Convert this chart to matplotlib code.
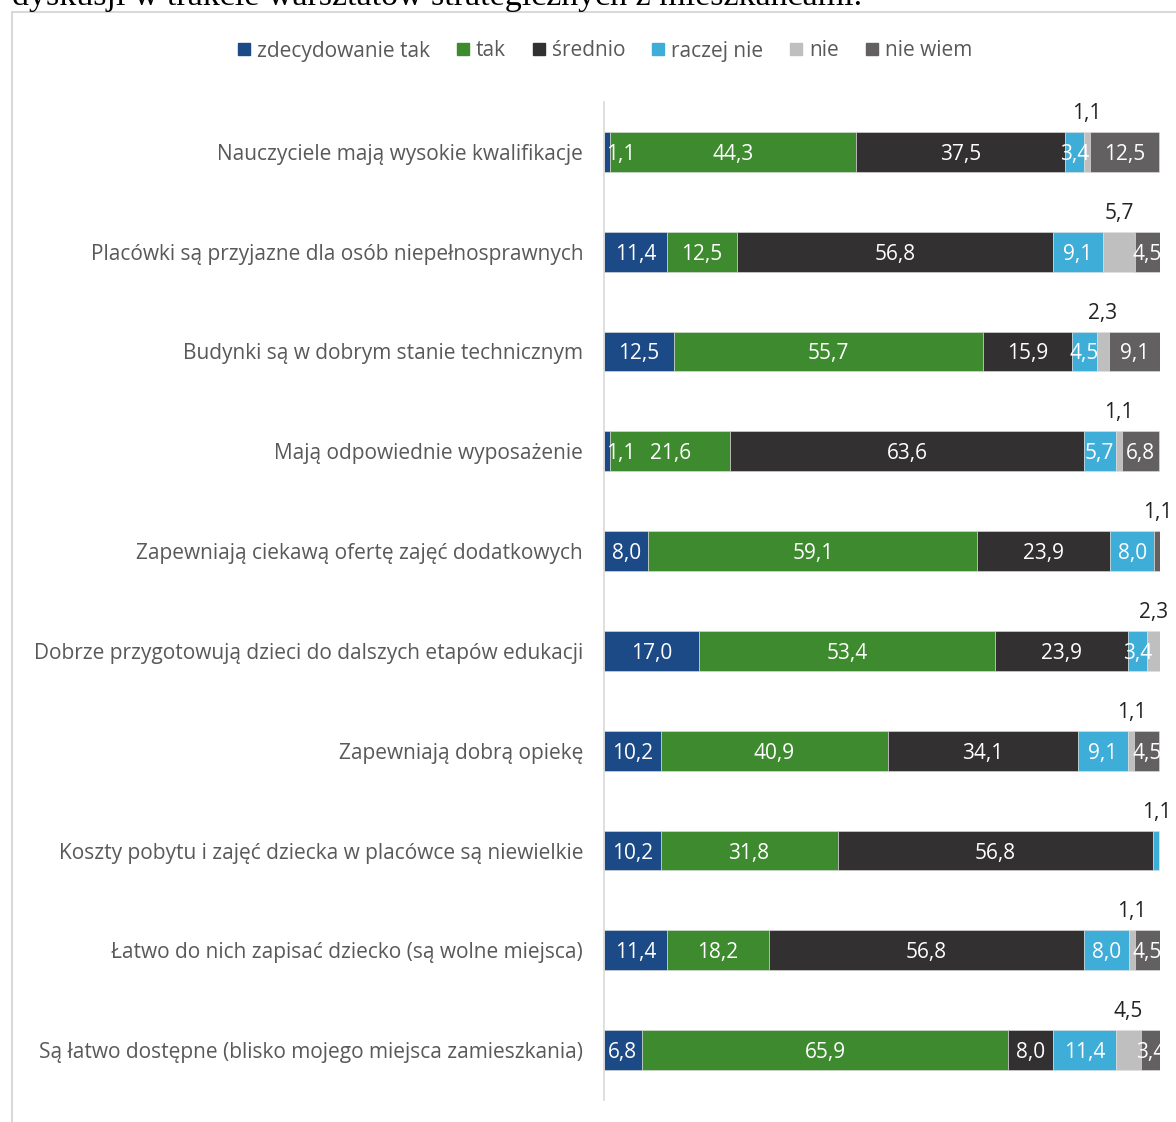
import matplotlib.pyplot as plt
import numpy as np
from matplotlib.lines import Line2D
from matplotlib.patches import Rectangle

plt.rcParams["font.family"] = ["Open Sans", "DejaVu Sans"]

categories = [
    "Nauczyciele mają wysokie kwalifikacje",
    "Placówki są przyjazne dla osób niepełnosprawnych",
    "Budynki są w dobrym stanie technicznym",
    "Mają odpowiednie wyposażenie",
    "Zapewniają ciekawą ofertę zajęć dodatkowych",
    "Dobrze przygotowują dzieci do dalszych etapów edukacji",
    "Zapewniają dobrą opiekę",
    "Koszty pobytu i zajęć dziecka w placówce są niewielkie",
    "Łatwo do nich zapisać dziecko (są wolne miejsca)",
    "Są łatwo dostępne (blisko mojego miejsca zamieszkania)",
]
series_names = ["zdecydowanie tak", "tak", "średnio", "raczej nie", "nie", "nie wiem"]
zdecydowanie_tak = [1.1, 11.4, 12.5, 1.1, 8.0, 17.0, 10.2, 10.2, 11.4, 6.8]
tak = [44.3, 12.5, 55.7, 21.6, 59.1, 53.4, 40.9, 31.8, 18.2, 65.9]
srednio = [37.5, 56.8, 15.9, 63.6, 23.9, 23.9, 34.1, 56.8, 56.8, 8.0]
raczej_nie = [3.4, 9.1, 4.5, 5.7, 8.0, 3.4, 9.1, 1.1, 8.0, 11.4]
nie = [1.1, 5.7, 2.3, 1.1, 0.0, 2.3, 1.1, 0.0, 1.1, 4.5]
nie_wiem = [12.5, 4.5, 9.1, 6.8, 1.1, 0.0, 4.5, 0.0, 4.5, 3.4]

colors = ["#1b4a86", "#3e8a2f", "#323031", "#3eadd8", "#bfbfbf", "#636061"]
data = np.array([zdecydowanie_tak, tak, srednio, raczej_nie, nie, nie_wiem])


def fmt(v):
    return f"{v:.1f}".replace(".", ",")


W, H = 1176, 1122
FS = 15
fig = plt.figure(figsize=(W / 100, H / 100), dpi=100)

# chart frame + cut-off line of text above it
fig.patches.append(Rectangle((11.5 / W, -0.05), 1.2, 1 - 12 / H + 0.05,
                             transform=fig.transFigure, fill=False,
                             edgecolor="#d9d9d9", linewidth=1.5))
fig.text(12 / W, 1 - 5 / H, "dyskusji w trakcie warsztatów strategicznych z mieszkańcami.",
         family=["Liberation Serif", "DejaVu Serif"], fontsize=24.5, va="baseline",
         ha="left", color="black")

ax = fig.add_axes([604 / W, 1 - 1100 / H, 556 / W, 998 / H])
y = np.arange(len(categories))
left = np.zeros(len(categories))
for k, name in enumerate(series_names):
    vals = data[k]
    ax.barh(y, vals, left=left, height=0.4, color=colors[k], label=name,
            edgecolor="#e0e0e0", linewidth=0.4)
    for i, v in enumerate(vals):
        if v <= 0:
            continue
        last = not np.any(data[k + 1:, i] > 0)
        cx = left[i] + v / 2
        if name == "nie" or (last and v < 2):
            ax.text(cx, i - 0.41, fmt(v), ha="center", va="center_baseline",
                    fontsize=FS, color="#222222", clip_on=False)
        elif k == 0 and v < 3:
            ax.text(left[i] + 0.4, i, fmt(v), ha="left", va="center_baseline",
                    fontsize=FS, color="white")
        else:
            ax.text(cx, i, fmt(v), ha="center", va="center_baseline",
                    fontsize=FS, color="white", clip_on=True)
    left += vals

ax.set_xlim(0, 100)
ax.set_ylim(len(categories) - 0.5, -0.5)
ax.set_yticks(y)
ax.set_yticklabels(categories, fontsize=FS, color="#595959")
ax.tick_params(axis="y", length=0, pad=15)
ax.set_xticks([])
for s in ["top", "right", "bottom"]:
    ax.spines[s].set_visible(False)
ax.spines["left"].set_color("#d9d9d9")
ax.spines["left"].set_linewidth(1.2)

handles = [Line2D([], [], marker="s", linestyle="none", markersize=8,
                  markerfacecolor=c, markeredgecolor=c) for c in colors]
fig.legend(handles, series_names, loc="center", bbox_to_anchor=(605 / W, 1 - 51 / H),
           ncol=6, frameon=False, fontsize=FS, labelcolor="#595959",
           handlelength=0.6, handletextpad=0.3, columnspacing=1.3)

fig.savefig("out.png", dpi=100)
